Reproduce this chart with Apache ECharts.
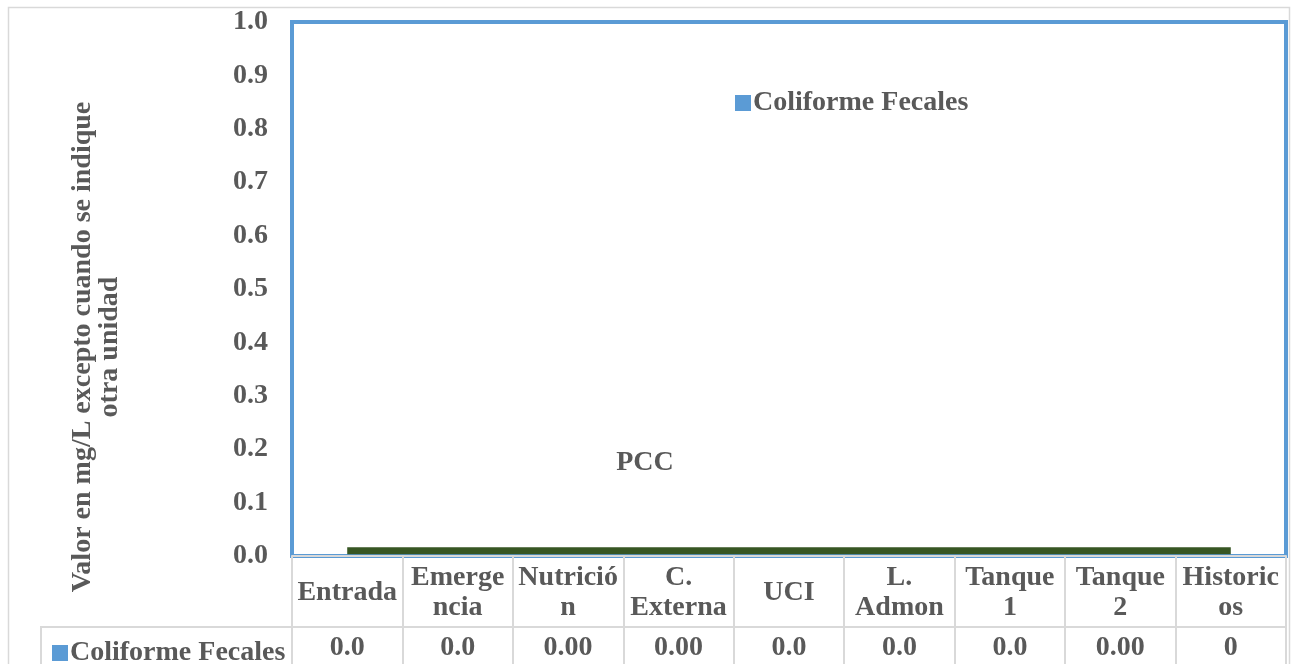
<!DOCTYPE html>
<html>
<head>
<meta charset="utf-8">
<script src="https://cdn.jsdelivr.net/npm/echarts@6/dist/echarts.min.js"></script>
<style>html,body{margin:0;padding:0;background:#fff}#c{width:1291px;height:664px}</style>
</head>
<body>
<div id="c"></div>
<script>
const categories = ['Entrada', 'Emerge\nncia', 'Nutrició\nn', 'C.\nExterna', 'UCI', 'L.\nAdmon', 'Tanque\n1', 'Tanque\n2', 'Historic\nos'];
const coliformeValues = [0, 0, 0, 0, 0, 0, 0, 0, 0];
const coliformeTableLabels = ['0.0', '0.0', '0.00', '0.00', '0.0', '0.0', '0.0', '0.00', '0'];
const pccValues = [0.01, 0.01, 0.01, 0.01, 0.01, 0.01, 0.01, 0.01, 0.01];
const yTicks = [0, 0.1, 0.2, 0.3, 0.4, 0.5, 0.6, 0.7, 0.8, 0.9, 1.0];
const seriesName = 'Coliforme Fecales';
const pccName = 'PCC';
const yTitle = 'Valor en mg/L excepto cuando se indique\notra unidad';

const FONT = '"Liberation Serif", "Times New Roman", serif';
const TXT = '#595959';
const GRIDC = '#d9d9d9';
const BLUE = '#5b9bd5';
const FS = 28;

const chart = echarts.init(document.getElementById('c'));
chart.setOption({
  animation: false,
  textStyle: { fontFamily: FONT },
  grid: { left: 292, right: 5, top: 22, bottom: 108, show: true, borderColor: BLUE, borderWidth: 4, backgroundColor: 'transparent' },
  legend: [
    { data: [seriesName], left: 730, top: 84, itemWidth: 16, itemHeight: 16, icon: 'rect', itemGap: 0,
      textStyle: { fontFamily: FONT, fontWeight: 'bold', fontSize: FS, color: TXT, padding: [0, 0, 0, -3] } },
    { data: [seriesName], left: 47, top: 634, itemWidth: 16, itemHeight: 16, icon: 'rect', itemGap: 0,
      selectedMode: false,
      textStyle: { fontFamily: FONT, fontWeight: 'bold', fontSize: FS, color: TXT, padding: [0, 0, 0, -3] } }
  ],
  xAxis: [
    { type: 'category', data: categories, position: 'bottom', boundaryGap: true,
      axisLine: { show: true, lineStyle: { color: GRIDC, width: 2 } },
      axisTick: { show: true, length: 71, lineStyle: { color: GRIDC, width: 2 } },
      axisLabel: { interval: 0, margin: 37, verticalAlign: 'middle', fontFamily: FONT, fontWeight: 'bold', fontSize: FS, color: TXT, lineHeight: 30, align: 'center' },
      splitLine: { show: false } },
    { type: 'category', data: coliformeTableLabels, position: 'bottom', offset: 71, boundaryGap: true,
      axisLine: { show: true, lineStyle: { color: GRIDC, width: 2 } },
      axisTick: { show: true, length: 45, lineStyle: { color: GRIDC, width: 2 } },
      axisLabel: { interval: 0, margin: 21, verticalAlign: 'middle', fontFamily: FONT, fontWeight: 'bold', fontSize: FS, color: TXT } }
  ],
  yAxis: {
    type: 'value', min: yTicks[0], max: yTicks[yTicks.length - 1], interval: 0.1,
    axisLine: { show: false }, axisTick: { show: false }, splitLine: { show: false },
    axisLabel: { margin: 24, fontFamily: FONT, fontWeight: 'bold', fontSize: FS, color: TXT, formatter: v => v.toFixed(1) }
  },
  graphic: [
    { type: 'rect', shape: { x: 8.5, y: 7.5, width: 1281, height: 680 }, style: { fill: 'none', stroke: GRIDC, lineWidth: 1.5 }, silent: true, z: -1 },
    { type: 'line', shape: { x1: 40, y1: 627, x2: 292, y2: 627 }, style: { stroke: GRIDC, lineWidth: 2 }, silent: true },
    { type: 'line', shape: { x1: 41, y1: 627, x2: 41, y2: 670 }, style: { stroke: GRIDC, lineWidth: 2 }, silent: true },
    { type: 'text', x: 96, y: 347, rotation: Math.PI / 2,
      style: { text: yTitle, fontFamily: FONT, fontWeight: 'bold', fontSize: FS, fill: TXT, align: 'center', verticalAlign: 'middle', lineHeight: 27 } },
    { type: 'text', x: 645, y: 463,
      style: { text: pccName, fontFamily: FONT, fontWeight: 'bold', fontSize: FS, fill: TXT, align: 'center', verticalAlign: 'middle' } }
  ],
  series: [
    { name: seriesName, type: 'bar', data: coliformeValues, itemStyle: { color: BLUE }, barWidth: '60%' },
    { name: pccName, type: 'line', data: pccValues, symbol: 'none', lineStyle: { color: '#375623', width: 7 }, itemStyle: { color: '#375623' } }
  ]
});
</script>
</body>
</html>
